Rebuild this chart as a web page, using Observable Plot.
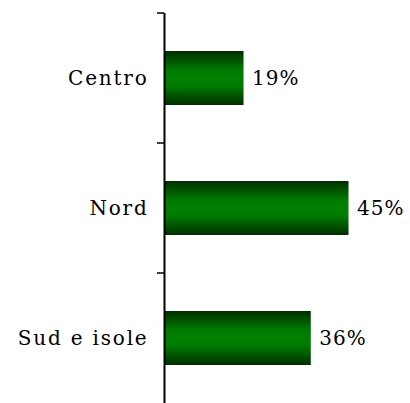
<!DOCTYPE html>
<html><head><meta charset="utf-8">
<script src="https://cdn.jsdelivr.net/npm/d3@7"></script>
<script src="https://cdn.jsdelivr.net/npm/@observablehq/plot@0.6"></script>
<style>
html,body{margin:0;padding:0;background:#fff;}
#chart svg{display:block;}
#chart g[aria-label="y-axis tick label"] text{letter-spacing:1.8px;}
#chart g[aria-label="text"] text{letter-spacing:1px;}
</style>
</head><body><div id="chart"></div>
<script>
const categories = ["Centro", "Nord", "Sud e isole"];
const values = [19.4, 45, 35.8];
const valueLabels = ["19%", "45%", "36%"];
const data = categories.map((c, i) => ({region: c, value: values[i], label: valueLabels[i]}));

// tick marks at the band boundaries (between categories), Excel-style
function boundaryTicks(index, scales, vals, dimensions) {
  const y = scales.y;
  const step = y(categories[1]) - y(categories[0]);
  const edges = categories.map(c => y(c)).concat([y(categories[categories.length - 1]) + step]);
  const x0 = dimensions.marginLeft;
  const g = d3.create("svg:g").attr("aria-label", "boundary ticks");
  g.selectAll("line").data(edges.slice(0, -1)).join("line")
    .attr("x1", x0 - 7).attr("x2", x0)
    .attr("y1", d => d).attr("y2", d => d)
    .attr("stroke", "#000").attr("stroke-width", 1.5);
  return g.node();
}

const chart = Plot.plot({
  width: 410,
  height: 403,
  marginLeft: 164,
  marginRight: 0,
  marginTop: 13,
  marginBottom: 0,
  style: {fontFamily: "'DejaVu Serif', serif", fontSize: "20px", color: "#000", background: "#fff", overflow: "visible"},
  x: {domain: [0, 60], axis: null},
  y: {domain: categories, padding: 0, axis: null},
  marks: [
    Plot.barX(data, {x: "value", y: "region", fill: "url(#barGrad)", insetTop: 38, insetBottom: 38}),
    Plot.text(data, {x: "value", y: "region", text: "label", textAnchor: "start", dx: 8, fontSize: 20}),
    Plot.axisY({tickSize: 0, tickPadding: 16, fontSize: 20, label: null}),
    Plot.ruleX([0], {stroke: "#000", strokeWidth: 2}),
    boundaryTicks
  ]
});

const svg = d3.select(chart);
const defs = svg.insert("defs", ":first-child");
const grad = defs.append("linearGradient").attr("id", "barGrad")
  .attr("x1", 0).attr("y1", 0).attr("x2", 0).attr("y2", 1);
[[0, "#002e00"], [0.35, "#007a00"], [0.5, "#008000"], [0.65, "#007a00"], [1, "#002e00"]].forEach(([o, c]) =>
  grad.append("stop").attr("offset", o).attr("stop-color", c));

document.getElementById("chart").appendChild(chart);
</script>
</body></html>
